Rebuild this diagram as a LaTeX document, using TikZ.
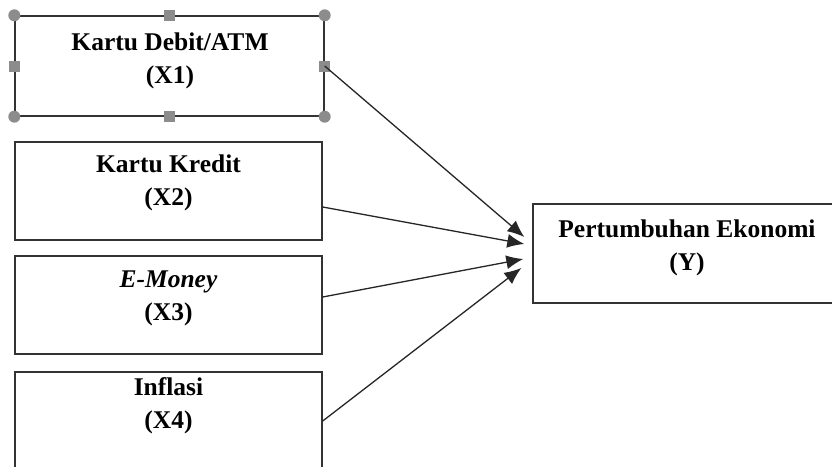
\documentclass[tikz,border=0pt]{standalone}
\usepackage{fontspec}
\setmainfont{Liberation Serif}
\usetikzlibrary{arrows.meta}
\definecolor{handlegray}{HTML}{8C8C8C}
\definecolor{framegray}{HTML}{333333}
\tikzset{
  box/.style={draw=framegray, line width=1.4pt, rectangle, inner sep=0pt},
  lbl/.style={align=center, font=\fontsize{25.5}{33}\selectfont\bfseries, text=black},
  conn/.style={draw=black!85, line width=1.3pt, -{Latex[length=17pt,width=14pt]}},
  handle/.style={fill=handlegray}
}
\begin{document}
\begin{tikzpicture}[x=1pt,y=-1pt]
\useasboundingbox (0,0) rectangle (832,466);
\clip (0,0) rectangle (832,466);
\fill[white] (0,0) rectangle (832,466);
% boxes
\node[box, minimum width=309pt, minimum height=100pt] (x1) at (169.5,66) {};
\node[box, minimum width=307pt, minimum height=98pt] (x2) at (168.5,191) {};
\node[box, minimum width=307pt, minimum height=98pt] (x3) at (168.5,305) {};
\node[box, minimum width=307pt, minimum height=98pt] (x4) at (168.5,421) {};
\node[box, minimum width=308pt, minimum height=99pt] (y) at (687,253.5) {};
% labels
\node[lbl] (x1t) at (170,61) {Kartu Debit/ATM\\(X1)};
\node[lbl] (x2t) at (168.5,182.5) {Kartu Kredit\\(X2)};
\node[lbl] (x3t) at (168.5,298) {\itshape E-Money\\(X3)};
\node[lbl] (x4t) at (168.5,405.5) {Inflasi\\(X4)};
\node[lbl] (yt) at (687,247.5) {Pertumbuhan Ekonomi\\(Y)};
% selection handles on box 1
\foreach \a in {north west,north east,south west,south east}
  \fill[handle] (x1.\a) circle (6pt);
\foreach \a in {north,south,east,west}
  \fill[handle] ([shift={(-5.5,-5.5)}]x1.\a) rectangle ++(11,11);
% connectors
\coordinate (t1) at ([xshift=-8pt,yshift=16.5pt]y.west);
\coordinate (t2) at ([xshift=-8pt,yshift=9.5pt]y.west);
\coordinate (t3) at ([xshift=-9pt,yshift=-5.5pt]y.west);
\coordinate (t4) at ([xshift=-11pt,yshift=-14.5pt]y.west);
\draw[conn] (x1.east) -- (t1);
\draw[conn] ([yshift=-16pt]x2.east) -- (t2);
\draw[conn] ([yshift=8pt]x3.east) -- (t3);
\draw[conn] (x4.east) -- (t4);
\end{tikzpicture}
\end{document}
